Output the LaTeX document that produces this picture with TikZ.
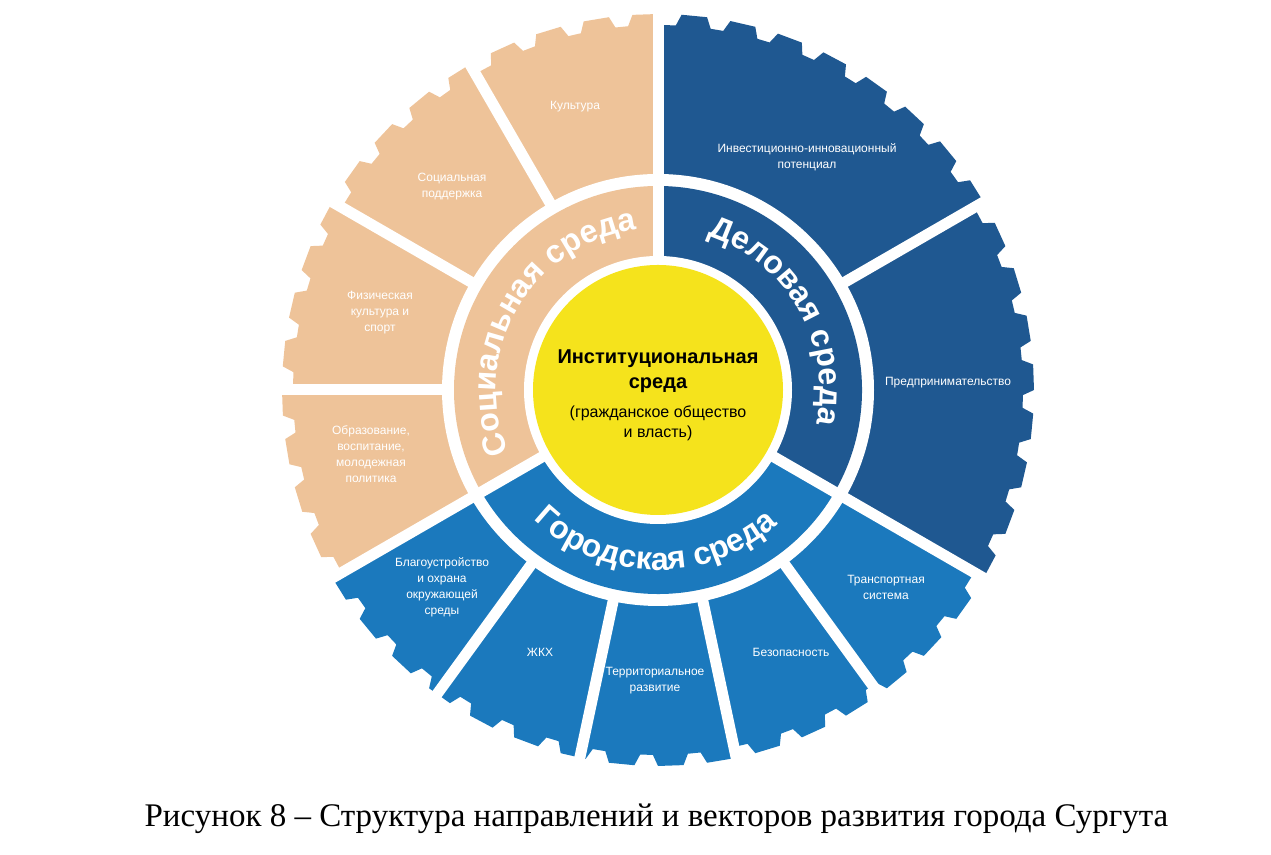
\documentclass[tikz,border=0pt]{standalone}
\usepackage{fontspec}
\setmainfont{Liberation Serif}
\setsansfont{Liberation Sans}
\usetikzlibrary{decorations.text}
\definecolor{beige}{HTML}{EEC399}
\definecolor{dblue}{HTML}{1F5891}
\definecolor{mblue}{HTML}{1B79BD}
\definecolor{yel}{HTML}{F5E31C}
\newcommand\rngfont{\sffamily\bfseries\fontsize{16}{16}\selectfont}
\tikzset{
  lbl/.style={text=white, font=\sffamily\fontsize{6}{8}\selectfont, align=center, inner sep=0pt},
  gap/.style={white, line width=5.5pt},
  ringtext/.style={decorate, decoration={text along path, text align=center, text color=white, text={|\rngfont|#1}}}
}
\begin{document}
\begin{tikzpicture}[x=0.5pt,y=0.5pt]
\useasboundingbox (0,0) rectangle (1271,855);
\begin{scope}[shift={(658,465)}]
  % outer gear-shaped sectors
  \foreach \col/\a/\b in {beige/90/210, dblue/-30/90, mblue/210/330} {
    \begin{scope}
      \clip (0,0) -- (\a:420) arc[start angle=\a, end angle=\b, radius=420] -- cycle;
      \fill[\col] (0:376) \foreach \k in {0,...,47} { -- ({\k*7.5}:376) -- ({\k*7.5+3.9}:376) -- ({\k*7.5+4.7}:365) -- ({\k*7.5+6.7}:365) -- ({\k*7.5+7.5}:376) } -- cycle;
    \end{scope}
  }
  \fill[white] (0,0) circle[radius=216];
  % ring
  \fill[beige] (0,0) -- (90:204) arc[start angle=90, end angle=210, radius=204] -- cycle;
  \fill[dblue] (0,0) -- (-30:204) arc[start angle=-30, end angle=90, radius=204] -- cycle;
  \fill[mblue] (0,0) -- (210:204) arc[start angle=210, end angle=330, radius=204] -- cycle;
  \fill[white] (0,0) circle[radius=134];
  \fill[yel] (0,0) circle[radius=125];
  % white separators
  \foreach \t in {120,150,180,30,-54,-78,-102,-126} \draw[gap] (\t:209) -- (\t:395);
  \foreach \t in {90,210,330} \draw[gap] (\t:129) -- (\t:395);
  % ring texts
  \path[ringtext={Социальная среда}] (215:162) arc[start angle=215, end angle=85, radius=162];
  \path[ringtext={Деловая среда}] (95:162) arc[start angle=95, end angle=-35, radius=162];
  \path[ringtext={Городская среда}] (203:180) arc[start angle=203, end angle=335, radius=180];
  % centre
  \node[align=center, font=\sffamily\bfseries\fontsize{10}{12.5}\selectfont, inner sep=0pt] (inst) at (0,19) {Институциональная\\среда};
  \node[align=center, font=\sffamily\fontsize{8}{10}\selectfont, inner sep=0pt] (instsub) at (0,-33) {(гражданское общество\\и власть)};
  % outer labels
  \node[lbl] (kult) at (-83,283) {Культура};
  \node[lbl] (socp) at (-206,203) {Социальная\\поддержка};
  \node[lbl] (fiz) at (-278,77) {Физическая\\культура и\\спорт};
  \node[lbl] (obr) at (-287,-64) {Образование,\\воспитание,\\молодежная\\политика};
  \node[lbl] (inv) at (149,233) {Инвестиционно-инновационный\\потенциал};
  \node[lbl] (pred) at (290,7) {Предпринимательство};
  \node[lbl] (trans) at (228,-197) {Транспортная\\система};
  \node[lbl] (bez) at (133,-262) {Безопасность};
  \node[lbl] (terr) at (-3,-291) {Территориальное\\развитие};
  \node[lbl] (zhkh) at (-118,-262) {ЖКХ};
  \node[lbl] (blag) at (-216,-197) {Благоустройство\\и охрана\\окружающей\\среды};
\end{scope}
\node[font=\fontsize{16.5}{20}\selectfont, inner sep=0pt] (cap) at (656.5,36) {Рисунок 8 – Структура направлений и векторов развития города Сургута};
\end{tikzpicture}
\end{document}
